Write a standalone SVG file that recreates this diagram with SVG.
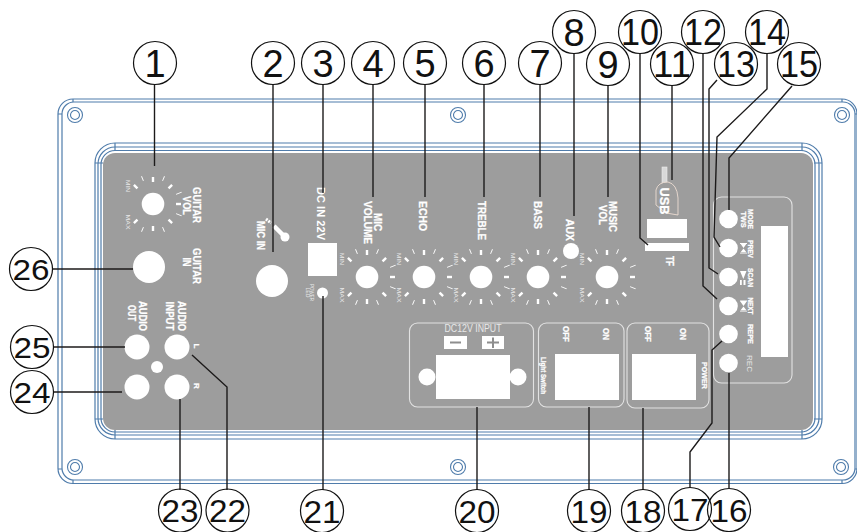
<svg xmlns="http://www.w3.org/2000/svg" xmlns:xlink="http://www.w3.org/1999/xlink" width="857" height="532" viewBox="0 0 857 532">
<style>
text{font-family:"Liberation Sans",Arial,sans-serif}
.f{fill:none;stroke:#4f7cab;stroke-width:1.2}
.w{fill:#fff}
.b{fill:#fff;font-weight:bold;text-anchor:middle;stroke:#fff;stroke-width:.25}
.r{fill:#e8e8e8;text-anchor:middle}
.box{fill:none;stroke:#e2e2e2;stroke-width:1.1}
.tk{stroke:#fff;stroke-width:2.4}
.tn{stroke:#fff;stroke-width:.9}
#connectors path{fill:none;stroke:#1c1a1a;stroke-width:1.4}
.c{fill:none;stroke:#111;stroke-width:1.2}
.n{fill:#111;text-anchor:middle}
.scr{fill:none;stroke:#4f7cab;stroke-width:1.1}
</style>
<defs>
<g id="ticks">
<line class="tk" y1="-22" y2="-27" transform="rotate(-135)"/>
<line class="tn" y1="-25" y2="-30" transform="rotate(-157.5)"/>
<line class="tk" y1="-22" y2="-27" transform="rotate(180)"/>
<line class="tn" y1="-25" y2="-30" transform="rotate(157.5)"/>
<line class="tk" y1="-22" y2="-27" transform="rotate(135)"/>
<line class="tn" y1="-25" y2="-31" transform="rotate(112.5)"/>
<line class="tk" y1="-23" y2="-28" transform="rotate(90)"/>
<line class="tn" y1="-25" y2="-31" transform="rotate(67.5)"/>
<line class="tk" y1="-22" y2="-27" transform="rotate(45)"/>
<line class="tn" y1="-25" y2="-30" transform="rotate(22.5)"/>
<line class="tk" y1="-22" y2="-27"/>
<line class="tn" y1="-25" y2="-30" transform="rotate(-22.5)"/>
<line class="tk" y1="-22" y2="-27" transform="rotate(-45)"/>
<circle class="w" r="11.3"/>
<text class="r" font-size="6" textLength="12" lengthAdjust="spacingAndGlyphs" transform="translate(-27 -18) rotate(90)">MIN</text>
<text class="r" font-size="6" textLength="15" lengthAdjust="spacingAndGlyphs" transform="translate(-27 18) rotate(90)">MAX</text>
</g>
<g id="screw"><circle class="scr" r="7.5"/><circle class="scr" r="4.5"/></g>
</defs>
<rect width="857" height="532" fill="#fff"/>

<g id="frame">
<rect class="f" x="58" y="99" width="799" height="384.500" rx="15"/>
<rect class="f" x="62" y="102" width="793" height="378" rx="12"/>
<path class="f" d="M73 99V102M58 114H62M842 99V102M855 114H857M58 469H62M73 480V484M842 480V484M855 469H857"/>
<use xlink:href="#screw" x="75" y="115"/>
<use xlink:href="#screw" x="458" y="115"/>
<use xlink:href="#screw" x="842" y="115"/>
<use xlink:href="#screw" x="75" y="467"/>
<use xlink:href="#screw" x="458" y="467"/>
<use xlink:href="#screw" x="841" y="467"/>
<rect class="f" x="95" y="143" width="727" height="296" rx="20"/>
<rect class="f" x="98" y="147" width="721" height="288" rx="17"/>
<rect class="f" x="101" y="150.500" width="714" height="281.500" rx="14"/>
<path class="f" d="M115 143V151M95 163H103M802 143V151M814 163H822M95 419H103M115 430V439M802 430V439M814 419H822"/>
<rect x="103" y="153" width="710" height="277" rx="12" fill="#9d9d9d"/>
</g>

<g id="guitar">
<use xlink:href="#ticks" x="153" y="204"/>
<text class="b" font-size="11" textLength="36" lengthAdjust="spacingAndGlyphs" transform="translate(193 205) rotate(90)">GUITAR</text>
<text class="b" font-size="11" textLength="19" lengthAdjust="spacingAndGlyphs" transform="translate(183 205.500) rotate(90)">VOL</text>
<circle class="w" cx="149" cy="267" r="16"/>
<text class="b" font-size="11" textLength="36" lengthAdjust="spacingAndGlyphs" transform="translate(193 266) rotate(90)">GUITAR</text>
<text class="b" font-size="11" textLength="9" lengthAdjust="spacingAndGlyphs" transform="translate(183 262) rotate(90)">IN</text>
</g>
<g id="mic-in">
<circle class="w" cx="272" cy="281" r="16"/>
<text class="b" font-size="11" textLength="29" lengthAdjust="spacingAndGlyphs" transform="translate(257 235.500) rotate(90)">MIC IN</text>
<path d="M274 226L283 235" stroke="#fff" stroke-width="4.500" fill="none"/>
<circle class="w" cx="285" cy="237" r="4.500"/>
<path d="M266 219L271 223" stroke="#fff" stroke-width="3" stroke-dasharray="2 1" fill="none"/>
</g>
<g id="dc-in">
<rect class="w" x="308" y="243" width="29" height="33"/>
<text class="b" font-size="11" textLength="53" lengthAdjust="spacing" style="stroke-width:0" transform="translate(317 213.500) rotate(90)">DC IN 22V</text>
<circle class="w" cx="322.500" cy="293" r="5.500"/>
<text class="r" font-size="4.500" textLength="17" lengthAdjust="spacingAndGlyphs" transform="translate(310 292.500) rotate(90)">POWER</text>
<text class="r" font-size="4.500" textLength="10" lengthAdjust="spacingAndGlyphs" transform="translate(306 292.500) rotate(90)">LED</text>
</g>
<g id="knobs">
<use xlink:href="#ticks" x="367" y="277"/>
<use xlink:href="#ticks" x="424" y="277"/>
<use xlink:href="#ticks" x="481" y="277"/>
<use xlink:href="#ticks" x="538" y="277"/>
<use xlink:href="#ticks" x="607" y="277"/>
<circle class="w" cx="571" cy="251" r="8"/>
<text class="b" font-size="11" textLength="18" lengthAdjust="spacingAndGlyphs" transform="translate(374 222) rotate(90)">MIC</text>
<text class="b" font-size="11" textLength="43" lengthAdjust="spacingAndGlyphs" transform="translate(364 222.500) rotate(90)">VOLUME</text>
<text class="b" font-size="11" textLength="30" lengthAdjust="spacingAndGlyphs" transform="translate(419 216) rotate(90)">ECHO</text>
<text class="b" font-size="11" textLength="39" lengthAdjust="spacingAndGlyphs" transform="translate(478 220.500) rotate(90)">TREBLE</text>
<text class="b" font-size="11" textLength="28" lengthAdjust="spacingAndGlyphs" transform="translate(534 215) rotate(90)">BASS</text>
<text class="b" font-size="11" textLength="22" lengthAdjust="spacingAndGlyphs" transform="translate(566 230) rotate(90)">AUX</text>
<text class="b" font-size="11" textLength="31" lengthAdjust="spacingAndGlyphs" transform="translate(609 216.500) rotate(90)">MUSIC</text>
<text class="b" font-size="11" textLength="20" lengthAdjust="spacingAndGlyphs" transform="translate(599 215) rotate(90)">VOL</text>
</g>
<g id="usb-tf">
<rect x="662" y="167" width="5" height="16" fill="#d9d9d9" stroke="#eee" stroke-width=".6"/>
<path d="M656 205V190Q658 182 668 182Q677 184 678 198V215L666 213Z" fill="#9d9d9d" stroke="#ecdcd2" stroke-width=".9"/>
<text class="b" font-size="12" textLength="27" lengthAdjust="spacingAndGlyphs" transform="translate(660 201) rotate(90)">USB</text>
<rect class="w" x="647" y="219" width="40" height="19"/>
<rect class="w" x="645" y="243" width="44" height="8"/>
<text class="b" font-size="11" textLength="10" lengthAdjust="spacingAndGlyphs" transform="translate(666 261) rotate(90)">TF</text>
</g>
<g id="audio">
<circle class="w" cx="137" cy="347" r="12.500"/>
<circle class="w" cx="177" cy="347" r="12.500"/>
<circle class="w" cx="137" cy="387" r="12.500"/>
<circle class="w" cx="177" cy="387" r="12.500"/>
<circle class="w" cx="157" cy="367" r="6"/>
<text class="b" font-size="10" textLength="30" lengthAdjust="spacingAndGlyphs" transform="translate(139 316) rotate(90)">AUDIO</text>
<text class="b" font-size="10" textLength="16" lengthAdjust="spacingAndGlyphs" transform="translate(128 313) rotate(90)">OUT</text>
<text class="b" font-size="10" textLength="30" lengthAdjust="spacingAndGlyphs" transform="translate(178 316) rotate(90)">AUDIO</text>
<text class="b" font-size="10" textLength="29" lengthAdjust="spacingAndGlyphs" transform="translate(166 316) rotate(90)">INPUT</text>
<text class="b" font-size="8" transform="translate(194 346) rotate(90)">L</text>
<text class="b" font-size="8" transform="translate(194 386) rotate(90)">R</text>
</g>
<g id="dc12v">
<rect class="box" x="409.500" y="323" width="124" height="84" rx="8"/>
<text class="r" font-size="10.500" textLength="57" lengthAdjust="spacingAndGlyphs" x="473" y="332">DC12V INPUT</text>
<rect class="w" x="444" y="336" width="23" height="13"/>
<rect class="w" x="482" y="336" width="22" height="13"/>
<path d="M450 342.500H461M487 342.500H499M493 337.500V348" stroke="#8e8e8e" stroke-width="2" fill="none"/>
<rect class="w" x="436" y="355" width="74" height="44"/>
<circle class="w" cx="427" cy="377" r="8.500"/>
<circle class="w" cx="518" cy="377" r="8.500"/>
</g>
<g id="light-switch">
<rect class="box" x="538.500" y="323" width="85.500" height="84" rx="8"/>
<rect class="w" x="555" y="354" width="64" height="46"/>
<text class="b" font-size="9" textLength="16" lengthAdjust="spacingAndGlyphs" transform="translate(563 334) rotate(90)">OFF</text>
<text class="b" font-size="9" textLength="12" lengthAdjust="spacingAndGlyphs" transform="translate(603 334) rotate(90)">ON</text>
<text class="b" font-size="7" textLength="37" lengthAdjust="spacingAndGlyphs" transform="translate(541 375.500) rotate(90)">Light Switch</text>
</g>
<g id="power">
<rect class="box" x="627" y="323" width="82" height="85" rx="8"/>
<rect class="w" x="632" y="354" width="64" height="46"/>
<text class="b" font-size="9" textLength="16" lengthAdjust="spacingAndGlyphs" transform="translate(645 334) rotate(90)">OFF</text>
<text class="b" font-size="9" textLength="12" lengthAdjust="spacingAndGlyphs" transform="translate(680 334) rotate(90)">ON</text>
<text class="b" font-size="8" textLength="27" lengthAdjust="spacingAndGlyphs" transform="translate(702 375.500) rotate(90)">POWER</text>
</g>
<g id="display">
<rect class="box" x="713.500" y="197" width="78.500" height="186" rx="8"/>
<rect class="w" x="761" y="226" width="27" height="131"/>
<circle class="w" cx="728.500" cy="219" r="9.300"/>
<circle class="w" cx="728.500" cy="248" r="9.300"/>
<circle class="w" cx="728.500" cy="277" r="9.300"/>
<circle class="w" cx="728.500" cy="306" r="9.300"/>
<circle class="w" cx="728.500" cy="334" r="9.300"/>
<circle class="w" cx="728.500" cy="363" r="9.300"/>
<text class="b" font-size="7.500" textLength="20" lengthAdjust="spacingAndGlyphs" transform="translate(748 219) rotate(90)">MODE</text>
<text class="b" font-size="7" textLength="16" lengthAdjust="spacingAndGlyphs" transform="translate(741 219.500) rotate(90)">TWS</text>
<text class="b" font-size="7.500" textLength="18" lengthAdjust="spacingAndGlyphs" transform="translate(748 249) rotate(90)">PREV</text>
<text class="b" font-size="7.500" textLength="19" lengthAdjust="spacingAndGlyphs" transform="translate(748 277.500) rotate(90)">SCAN</text>
<text class="b" font-size="7.500" textLength="17" lengthAdjust="spacingAndGlyphs" transform="translate(748 306) rotate(90)">NEXT</text>
<text class="b" font-size="7.500" textLength="20" lengthAdjust="spacingAndGlyphs" transform="translate(748 334) rotate(90)">REPE</text>
<text class="r" font-size="7.500" textLength="17" lengthAdjust="spacingAndGlyphs" transform="translate(747 363.500) rotate(90)">REC</text>
<path class="w" d="M740 243H747L743.500 248ZM740 253H747L743.500 248.500ZM740 243H747V244H740ZM740 252.500H747V253.500H740Z"/>
<path class="w" d="M740 271H746.500L743.300 279ZM740 280H741.800V285H740ZM743.500 280H745.500V285H743.500Z"/>
<path class="w" d="M740 301H747L743.500 306ZM740 311H747L743.500 306.500ZM740 300.500H747V301.500H740ZM740 310.500H747V311.500H740Z"/>
</g>

<g id="connectors">
<path d="M154.500 85V166"/>
<path d="M273 85V252"/>
<path d="M323 85V193"/>
<path d="M373 85V197"/>
<path d="M425 85V197"/>
<path d="M484 85V197"/>
<path d="M540 85V197"/>
<path d="M574 54V216"/>
<path d="M608 86V197"/>
<path d="M640 54V238L648 245"/>
<path d="M672 86V180"/>
<path d="M703 54V286L717 299"/>
<path d="M717 80L709 89V268L718 274"/>
<path d="M767 54V89L717 137L714 237L720 247"/>
<path d="M792 86L729 158V210"/>
<path d="M729 373V488"/>
<path d="M690 487V452L712 423V350L722 341"/>
<path d="M643 408V490"/>
<path d="M589 407V490"/>
<path d="M477 407V490"/>
<path d="M323 296V490"/>
<path d="M192 355L227 387V490"/>
<path d="M180 399V490"/>
<path d="M53 392H122"/>
<path d="M53 347H125"/>
<path d="M53 269H133"/>
</g>

<g id="n1"><circle class="c" cx="155" cy="63" r="21.500"/><text class="n" x="155" y="76.500" font-size="38">1</text></g>
<g id="n2"><circle class="c" cx="273" cy="63" r="21.500"/><text class="n" x="273" y="76.500" font-size="38">2</text></g>
<g id="n3"><circle class="c" cx="323" cy="63" r="21.500"/><text class="n" x="323" y="76.500" font-size="38">3</text></g>
<g id="n4"><circle class="c" cx="373" cy="63" r="21.500"/><text class="n" x="373" y="76.500" font-size="38">4</text></g>
<g id="n5"><circle class="c" cx="425" cy="63" r="21.500"/><text class="n" x="425" y="76.500" font-size="38">5</text></g>
<g id="n6"><circle class="c" cx="484" cy="63" r="21.500"/><text class="n" x="484" y="76.500" font-size="38">6</text></g>
<g id="n7"><circle class="c" cx="540" cy="63" r="21.500"/><text class="n" x="540" y="76.500" font-size="38">7</text></g>
<g id="n8"><circle class="c" cx="574" cy="32" r="21.500"/><text class="n" x="574" y="46" font-size="38">8</text></g>
<g id="n9"><circle class="c" cx="608" cy="64" r="21.500"/><text class="n" x="608" y="78" font-size="38">9</text></g>
<g id="n10"><circle class="c" cx="640" cy="32" r="21.500"/><text class="n" x="640" y="45" font-size="36" textLength="38" lengthAdjust="spacingAndGlyphs">10</text></g>
<g id="n11"><circle class="c" cx="672" cy="64" r="21.500"/><text class="n" x="672" y="77" font-size="36" textLength="38" lengthAdjust="spacingAndGlyphs">11</text></g>
<g id="n12"><circle class="c" cx="703" cy="32" r="21.500"/><text class="n" x="703" y="45" font-size="36" textLength="38" lengthAdjust="spacingAndGlyphs">12</text></g>
<g id="n13"><circle class="c" cx="736" cy="64" r="21.500"/><text class="n" x="736" y="77" font-size="36" textLength="38" lengthAdjust="spacingAndGlyphs">13</text></g>
<g id="n14"><circle class="c" cx="767" cy="32" r="21.500"/><text class="n" x="767" y="45" font-size="36" textLength="38" lengthAdjust="spacingAndGlyphs">14</text></g>
<g id="n15"><circle class="c" cx="799" cy="64" r="21.500"/><text class="n" x="799" y="77" font-size="36" textLength="38" lengthAdjust="spacingAndGlyphs">15</text></g>
<g id="n16"><circle class="c" cx="729" cy="510" r="21.500"/><text class="n" x="729" y="522" font-size="32" textLength="37" lengthAdjust="spacingAndGlyphs">16</text></g>
<g id="n17"><circle class="c" cx="690" cy="509" r="21.500"/><text class="n" x="690" y="521" font-size="32" textLength="37" lengthAdjust="spacingAndGlyphs">17</text></g>
<g id="n18"><circle class="c" cx="643" cy="511" r="21.500"/><text class="n" x="643" y="523" font-size="32" textLength="37" lengthAdjust="spacingAndGlyphs">18</text></g>
<g id="n19"><circle class="c" cx="589" cy="511" r="21.500"/><text class="n" x="589" y="523" font-size="32" textLength="37" lengthAdjust="spacingAndGlyphs">19</text></g>
<g id="n20"><circle class="c" cx="477" cy="511" r="21.500"/><text class="n" x="477" y="523" font-size="32" textLength="37" lengthAdjust="spacingAndGlyphs">20</text></g>
<g id="n21"><circle class="c" cx="322" cy="511" r="21.500"/><text class="n" x="322" y="523" font-size="32" textLength="37" lengthAdjust="spacingAndGlyphs">21</text></g>
<g id="n22"><circle class="c" cx="227.500" cy="510.500" r="21.500"/><text class="n" x="227.500" y="522" font-size="32" textLength="37" lengthAdjust="spacingAndGlyphs">22</text></g>
<g id="n23"><circle class="c" cx="180" cy="510.500" r="21.500"/><text class="n" x="180" y="522" font-size="32" textLength="37" lengthAdjust="spacingAndGlyphs">23</text></g>
<g id="n24"><circle class="c" cx="32" cy="392" r="21.500"/><text class="n" x="32" y="403" font-size="30" textLength="37" lengthAdjust="spacingAndGlyphs">24</text></g>
<g id="n25"><circle class="c" cx="32" cy="347" r="21.500"/><text class="n" x="32" y="358" font-size="30" textLength="37" lengthAdjust="spacingAndGlyphs">25</text></g>
<g id="n26"><circle class="c" cx="31" cy="269" r="21.500"/><text class="n" x="31" y="280" font-size="30" textLength="37" lengthAdjust="spacingAndGlyphs">26</text></g>
</svg>
